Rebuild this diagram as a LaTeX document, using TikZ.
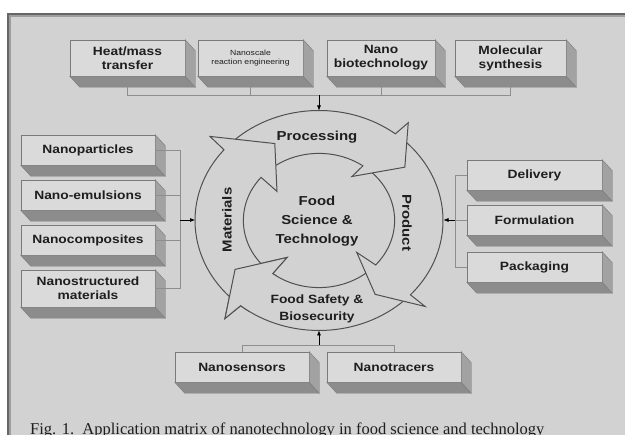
\documentclass[tikz,border=0pt]{standalone}
\usepackage{fontspec}
\setmainfont{Liberation Sans}[FakeStretch=1.15]
\newfontfamily\capfont{Liberation Serif}
\usetikzlibrary{arrows.meta}
\definecolor{panel}{HTML}{D2D2D2}
\definecolor{face}{HTML}{DADADA}
\definecolor{bot}{HTML}{8C8C8C}
\definecolor{side}{HTML}{A2A2A2}
\definecolor{edge}{HTML}{7A7A7A}
\definecolor{ringc}{HTML}{505050}
\definecolor{connc}{HTML}{8E8E8E}
\definecolor{txt}{HTML}{1E1E1E}
\newcommand{\smalltxt}{\fontsize{7.5}{9.5}\selectfont\mdseries}
\tikzset{
 tdbox/.style={draw=edge, fill=face, line width=0.5pt, inner sep=0pt, align=center, text=txt, font=\fontsize{12}{14}\selectfont\bfseries},
 tdbot/.style={fill=bot, draw=edge, line width=0.4pt},
 tdside/.style={fill=side, draw=edge, line width=0.4pt},
 conn/.style={draw=connc, line width=0.7pt},
 arr/.style={draw=black, line width=0.6pt, -{Latex[length=5pt,width=4pt]}},
 ringarrow/.style={fill=panel, draw=ringc, line width=1pt, line join=miter},
 ringtext/.style={font=\fontsize{13}{19}\selectfont\bfseries, align=center, inner sep=0pt, text=txt},
}
\newcommand{\tdbox}[6]{%
 \node[tdbox, minimum width=#4pt, minimum height=#5pt] (#1) at (#2,#3) {#6};
 \draw[tdbot] (#1.south west) -- (#1.south east) -- ([shift={(10pt,-11pt)}]#1.south east) -- ([shift={(10pt,-11pt)}]#1.south west) -- cycle;
 \draw[tdside] (#1.north east) -- ([shift={(10pt,-11pt)}]#1.north east) -- ([shift={(10pt,-11pt)}]#1.south east) -- (#1.south east) -- cycle;
}
\begin{document}
\begin{tikzpicture}[x=1pt,y=1pt]
\useasboundingbox (0,0) rectangle (625,435);
\fill[white] (0,0) rectangle (625,435);
\fill[panel] (9,0) rectangle (625,420);
\draw[line width=1.6pt, color=black!60] (8.2,0) -- (8.2,420.8) -- (625,420.8);
\draw[line width=1.2pt, color=black!38] (10,0) -- (10,419) -- (625,419);

% ring of four curved arrows
\begin{scope}[shift={(319,214.5)}, xscale=124, yscale=110]
 % Food safety (D)
 \path[ringarrow] (-46:1) arc[start angle=-46, end angle=-129.2, radius=1] -- (-130.4:1.17) -- (-146.7:0.81) -- (-127.5:0.424) -- (-127.7:0.61) arc[start angle=-127.7, end angle=-46, radius=0.61] -- cycle;
 % Product (C)
 \path[ringarrow] (-310:1) arc[start angle=-310, end angle=-402.5, radius=1] -- (-402.4:1.159) -- (-416:0.81) -- (-403.6:0.42) -- (-401.5:0.61) arc[start angle=-401.5, end angle=-310, radius=0.61] -- cycle;
 % Processing (B)
 \path[ringarrow] (-224:1) arc[start angle=-224, end angle=-308, radius=1] -- (-309:1.144) -- (-325:0.845) -- (-303.6:0.48) -- (-305.5:0.61) arc[start angle=-305.5, end angle=-224, radius=0.61] -- cycle;
 % Materials (A)
 \path[ringarrow] (-133:1) arc[start angle=-133, end angle=-220, radius=1] -- (-221:1.165) -- (-243:0.785) -- (-218:0.43) -- (-220:0.61) arc[start angle=-220, end angle=-133, radius=0.61] -- cycle;
 % head of D again, above the tail of A
 \fill[panel] (-124:1) arc[start angle=-124, end angle=-129.2, radius=1] -- (-130.4:1.17) -- (-146.7:0.81) -- (-127.5:0.424) -- (-127.7:0.61) arc[start angle=-127.7, end angle=-124, radius=0.61] -- cycle;
 \draw[draw=ringc, line width=1pt] (-124:1) arc[start angle=-124, end angle=-129.2, radius=1] -- (-130.4:1.17) -- (-146.7:0.81) -- (-127.5:0.424) -- (-127.7:0.61) arc[start angle=-127.7, end angle=-124, radius=0.61];
\end{scope}

\node[ringtext] (proc) at (317,298) {Processing};
\node[ringtext] (fst) at (317,214) {Food\\Science \&\\Technology};
\node[ringtext, rotate=90] (mat) at (227,215) {Materials};
\node[ringtext, rotate=-90] (prod) at (407,212) {Product};
\node[ringtext, font=\fontsize{12}{17}\selectfont\bfseries] (fsb) at (317,126) {Food Safety \&\\Biosecurity};

% top boxes
\tdbox{t1}{127.5}{377}{115}{36}{Heat/mass\\transfer}
\tdbox{t2}{250.5}{377}{105}{36}{\smalltxt Nanoscale\\[-4.5pt]\smalltxt reaction engineering}
\tdbox{t3}{381}{377}{108}{36}{Nano\\biotechnology}
\tdbox{t4}{510.5}{377}{111}{36}{Molecular\\synthesis}
\coordinate (tj) at (319,340);
\coordinate (rN) at (319,324.5);
\draw[conn] ([yshift=-11pt]t1.south) -- (t1.south |- tj) -- (t4.south |- tj) -- ([yshift=-11pt]t4.south);
\draw[conn] ([yshift=-11pt]t2.south) -- (t2.south |- tj);
\draw[conn] ([yshift=-11pt]t3.south) -- (t3.south |- tj);
\draw[arr] (tj) -- (rN);

% left boxes
\tdbox{l1}{88}{285}{134}{30}{Nanoparticles}
\tdbox{l2}{88}{240}{134}{30}{Nano-emulsions}
\tdbox{l3}{88}{195}{134}{30}{Nanocomposites}
\tdbox{l4}{88}{146.5}{134}{37}{Nanostructured\\materials}
\coordinate (lj) at (180,215);
\coordinate (rW) at (195,215);
\draw[conn] (l1.east) -- (l1.east -| lj) -- (l4.east -| lj) -- (l4.east);
\draw[conn] (l2.east) -- (l2.east -| lj);
\draw[conn] (l3.east) -- (l3.east -| lj);
\draw[arr] (lj) -- (rW);

% right boxes
\tdbox{r1}{534.5}{260}{135}{30}{Delivery}
\tdbox{r2}{534.5}{215}{135}{30}{Formulation}
\tdbox{r3}{534.5}{168}{135}{30}{Packaging}
\coordinate (rj) at (455,215);
\coordinate (rE) at (443.5,215);
\draw[conn] (r1.west) -- (r1.west -| rj) -- (r3.west -| rj) -- (r3.west);
\draw[conn] (r2.west) -- (rj);
\draw[arr] (rj) -- (rE);

% bottom boxes
\tdbox{b1}{242}{68}{134}{30}{Nanosensors}
\tdbox{b2}{394}{68}{134}{30}{Nanotracers}
\coordinate (bj) at (319,90);
\coordinate (rS) at (319,104.5);
\draw[conn] (b1.north) -- (b1.north |- bj) -- (b2.north |- bj) -- (b2.north);
\draw[arr] (bj) -- (rS);

% caption
\node[anchor=base west, inner sep=0pt, text=txt, font=\capfont\fontsize{16.5}{18}\selectfont] (cap) at (30,0) {Fig. 1.\ \ Application matrix of nanotechnology in food science and technology};
\end{tikzpicture}
\end{document}
